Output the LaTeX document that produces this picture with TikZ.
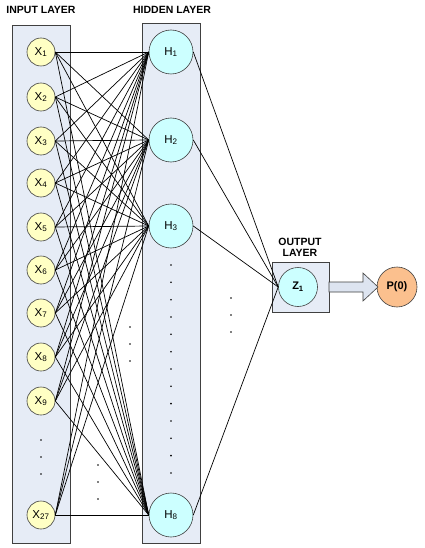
\documentclass[tikz,border=0pt]{standalone}
\usepackage{fontspec}
\setmainfont{Liberation Sans}
\definecolor{layerfill}{HTML}{E6ECF6}
\definecolor{layerdraw}{HTML}{404040}
\definecolor{xfill}{HTML}{FFFFC4}
\definecolor{hfill}{HTML}{CCFFFF}
\definecolor{pfill}{HTML}{FBC08E}
\definecolor{arrfill}{HTML}{DDE4F0}
\begin{document}
\begin{tikzpicture}[x=1pt,y=-1pt,
  layer/.style={draw=layerdraw,fill=layerfill,line width=0.9pt},
  xn/.style={circle,draw=layerdraw,fill=xfill,minimum size=28pt,inner sep=0pt,font=\fontsize{11.5}{12}\selectfont,line width=0.6pt},
  hn/.style={circle,draw=layerdraw,fill=hfill,minimum size=44pt,inner sep=0pt,font=\fontsize{11.5}{12}\selectfont,line width=0.6pt},
  zn/.style={circle,draw=layerdraw,fill=hfill,minimum size=39pt,inner sep=0pt,font=\fontsize{11}{12}\selectfont\bfseries,line width=0.6pt},
  pn/.style={circle,draw=layerdraw,fill=pfill,minimum size=40pt,inner sep=0pt,font=\fontsize{11}{12}\selectfont\bfseries,line width=0.6pt},
  conn/.style={line width=0.7pt,black},
  title/.style={font=\fontsize{10.5}{11}\selectfont\bfseries,inner sep=0pt},
  dotmark/.style={circle,fill=black,inner sep=0pt,minimum size=1.8pt}]
\useasboundingbox (0,0) rectangle (425,548);
\fill[white] (0,0) rectangle (425,548);
% layers
\draw[layer] (12,25) rectangle (70,543);
\draw[layer] (142,23) rectangle (200,543);
\draw[layer] (272,262) rectangle (329,312);
% titles
\node[title] (tin) at (41,10) {INPUT LAYER};
\node[title] (thid) at (172,10) {HIDDEN LAYER};
\node[title] (tout1) at (300,242) {OUTPUT};
\node[title] (tout2) at (300,253) {LAYER};
% input nodes
\foreach \i/\y in {1/52,2/97,3/141,4/183,5/227,6/270,7/313,8/357,9/401,27/515}
  \node[xn] (x\i) at (41,\y) {X\textsubscript{\i}};
% hidden nodes
\foreach \j/\y in {1/52,2/140,3/226,8/515}
  \node[hn] (h\j) at (171,\y) {H\textsubscript{\j}};
% output
\node[zn] (z) at (298,287) {Z\textsubscript{1}};
\node[pn] (p) at (397,287) {P(0)};
% connections
\foreach \i in {1,...,9,27}
  \foreach \j in {1,2,3,8}
    \draw[conn] (x\i.east) -- (h\j.west);
\foreach \j in {1,2,3,8}
  \draw[conn] (h\j.east) -- (z.west);
% block arrow
\draw[draw=layerdraw,fill=arrfill,line width=0.6pt]
  (329,282) -- (363,282) -- (363,273) -- (378,287) -- (363,301) -- (363,292) -- (329,292) -- cycle;
% dots
\foreach \y in {440,457,474} \node[dotmark] (dx\y) at (41,\y) {};
\foreach \k in {0,...,12} \node[dotmark] (dh\k) at (171,{265+17.33*\k}) {};
\foreach \y in {327,344,361} \node[dotmark] (dm\y) at (130,\y) {};
\foreach \y in {465,482,499} \node[dotmark] (dl\y) at (98,\y) {};
\foreach \y in {298,315,332} \node[dotmark] (dr\y) at (231,\y) {};
\end{tikzpicture}
\end{document}
